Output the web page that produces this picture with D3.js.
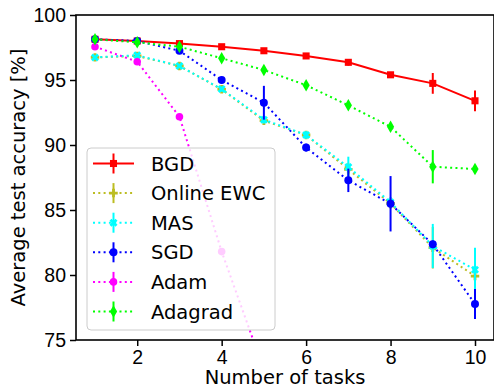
<!DOCTYPE html>
<html>
<head>
<meta charset="utf-8">
<script src="https://cdn.jsdelivr.net/npm/d3@7"></script>
<style>
  body { margin: 0; background: #fff; }
  svg { display: block; font-family: "DejaVu Sans", sans-serif; }
</style>
</head>
<body>
<div id="chart"></div>
<script>
const tasks = [1, 2, 3, 4, 5, 6, 7, 8, 9, 10];
const xTicks = [2, 4, 6, 8, 10];
const yTicks = [75, 80, 85, 90, 95, 100];

const bgd = [98.13, 98.0, 97.8, 97.56, 97.25, 96.85, 96.36, 95.4, 94.74, 93.4];
const bgdErr = [0.1, 0.1, 0.1, 0.1, 0.1, 0.15, 0.25, 0.2, 0.8, 0.8];
const onlineEwc = [96.74, 96.85, 96.08, 94.28, 91.87, 90.77, 88.13, 85.5, 82.1, 79.92];
const onlineEwcErr = [0.1, 0.1, 0.1, 0.2, 0.3, 0.3, 0.5, 0.4, 1.6, 1.0];
const mas = [96.74, 96.9, 96.08, 94.3, 91.95, 90.77, 88.3, 85.6, 82.23, 80.4];
const masErr = [0.1, 0.15, 0.1, 0.2, 0.3, 0.3, 0.8, 0.4, 1.7, 1.7];
const sgd = [98.13, 98.0, 97.25, 95.0, 93.25, 89.8, 87.28, 85.48, 82.36, 77.77];
const sgdErr = [0.1, 0.1, 0.15, 0.2, 1.3, 0.3, 0.9, 2.13, 0.3, 1.15];
const adam = [97.56, 96.41, 92.18, 81.8, 72.7];
const adamErr = [0.1, 0.2, 0.2, 0.2, 0.2];
const adagrad = [98.13, 97.9, 97.56, 96.67, 95.77, 94.6, 93.05, 91.4, 88.33, 88.15];
const adagradErr = [0.1, 0.1, 0.1, 0.15, 0.1, 0.15, 0.15, 0.15, 1.28, 0.3];

const series = [
  { name: "BGD", values: bgd, err: bgdErr, color: "#ff0000", dash: null, symbol: d3.symbolSquare, size: 50, rot: 0 },
  { name: "Online EWC", values: onlineEwc, err: onlineEwcErr, color: "#bcbd22", dash: "2,3.3", symbol: d3.symbolCross, size: 40, rot: 0 },
  { name: "MAS", values: mas, err: masErr, color: "#00ffff", dash: "2,3.3", symbol: d3.symbolCross, size: 40, rot: 45 },
  { name: "SGD", values: sgd, err: sgdErr, color: "#0000ff", dash: "2,3.3", symbol: d3.symbolCircle, size: 50, rot: 0 },
  { name: "Adam", values: adam, err: adamErr, color: "#ff00ff", dash: "2,3.3", symbol: d3.symbolCircle, size: 45, rot: 0 },
  { name: "Adagrad", values: adagrad, err: adagradErr, color: "#00ff00", dash: "2,3.3", symbol: d3.symbolDiamond, size: 45, rot: 0 }
];

const W = 494, H = 387;
const margin = { left: 76, top: 15, right: 0, bottom: 47 };

const svg = d3.select("#chart").append("svg")
  .attr("width", W)
  .attr("height", H);

const x = d3.scaleLinear().domain([0.55, 10.45]).range([margin.left, W - margin.right]);
const y = d3.scaleLinear().domain([75, 100]).range([H - margin.bottom, margin.top]);

svg.append("clipPath").attr("id", "plotclip")
  .append("rect")
  .attr("x", margin.left).attr("y", margin.top)
  .attr("width", W - margin.right - margin.left)
  .attr("height", H - margin.bottom - margin.top);

const plot = svg.append("g").attr("clip-path", "url(#plotclip)");

const line = d3.line()
  .x((d, i) => x(tasks[i]))
  .y(d => y(d));

series.forEach(s => {
  const g = plot.append("g");
  g.append("path")
    .attr("d", line(s.values))
    .attr("fill", "none")
    .attr("stroke", s.color)
    .attr("stroke-width", 2)
    .attr("stroke-dasharray", s.dash);

  // error bars
  g.selectAll("line.err")
    .data(s.values)
    .enter().append("line")
    .attr("x1", (d, i) => x(tasks[i]))
    .attr("x2", (d, i) => x(tasks[i]))
    .attr("y1", (d, i) => y(d - s.err[i]))
    .attr("y2", (d, i) => y(d + s.err[i]))
    .attr("stroke", s.color)
    .attr("stroke-width", 2);

  // markers
  g.selectAll("path.mk")
    .data(s.values)
    .enter().append("path")
    .attr("d", d3.symbol().type(s.symbol).size(s.size))
    .attr("transform", (d, i) => `translate(${x(tasks[i])},${y(d)}) rotate(${s.rot})`)
    .attr("fill", s.color);
});

// Axes frame
svg.append("rect")
  .attr("x", margin.left).attr("y", margin.top)
  .attr("width", W - margin.right - margin.left)
  .attr("height", H - margin.bottom - margin.top)
  .attr("fill", "none")
  .attr("stroke", "#000")
  .attr("stroke-width", 1.6);

// X axis
const xAxis = svg.append("g")
  .attr("transform", `translate(0,${H - margin.bottom})`)
  .call(d3.axisBottom(x).tickValues(xTicks).tickSize(6).tickPadding(4).tickFormat(d3.format("d")));
xAxis.select(".domain").remove();
xAxis.selectAll("line").attr("stroke-width", 1.5);
xAxis.selectAll("text").style("font-size", "19.5px").attr("fill", "#000");

// Y axis
const yAxis = svg.append("g")
  .attr("transform", `translate(${margin.left},0)`)
  .call(d3.axisLeft(y).tickValues(yTicks).tickSize(6).tickPadding(4).tickFormat(d3.format("d")));
yAxis.select(".domain").remove();
yAxis.selectAll("line").attr("stroke-width", 1.5);
yAxis.selectAll("text").style("font-size", "19.5px").attr("fill", "#000");

// Axis labels
svg.append("text")
  .attr("x", (margin.left + W - margin.right) / 2)
  .attr("y", 384)
  .attr("text-anchor", "middle")
  .style("font-size", "19.5px")
  .text("Number of tasks");

svg.append("text")
  .attr("transform", `translate(25,${(margin.top + H - margin.bottom) / 2}) rotate(-90)`)
  .attr("text-anchor", "middle")
  .style("font-size", "19.5px")
  .text("Average test accuracy [%]");

// Legend
const legend = svg.append("g");
legend.append("rect")
  .attr("x", 87).attr("y", 148)
  .attr("width", 188).attr("height", 182)
  .attr("rx", 4)
  .attr("fill", "#fff")
  .attr("fill-opacity", 0.8)
  .attr("stroke", "#cccccc")
  .attr("stroke-width", 1);

series.forEach((s, i) => {
  const cy = 163.5 + i * 29.6;
  const item = legend.append("g");
  item.append("line")
    .attr("x1", 93).attr("x2", 134)
    .attr("y1", cy).attr("y2", cy)
    .attr("stroke", s.color)
    .attr("stroke-width", 2)
    .attr("stroke-dasharray", s.dash);
  item.append("line")
    .attr("x1", 113.5).attr("x2", 113.5)
    .attr("y1", cy - 10).attr("y2", cy + 10)
    .attr("stroke", s.color)
    .attr("stroke-width", 2);
  item.append("path")
    .attr("d", d3.symbol().type(s.symbol).size(s.size))
    .attr("transform", `translate(113.5,${cy}) rotate(${s.rot})`)
    .attr("fill", s.color);
  item.append("text")
    .attr("x", 151)
    .attr("y", cy + 7)
    .style("font-size", "19.5px")
    .text(s.name);
});
</script>
</body>
</html>
